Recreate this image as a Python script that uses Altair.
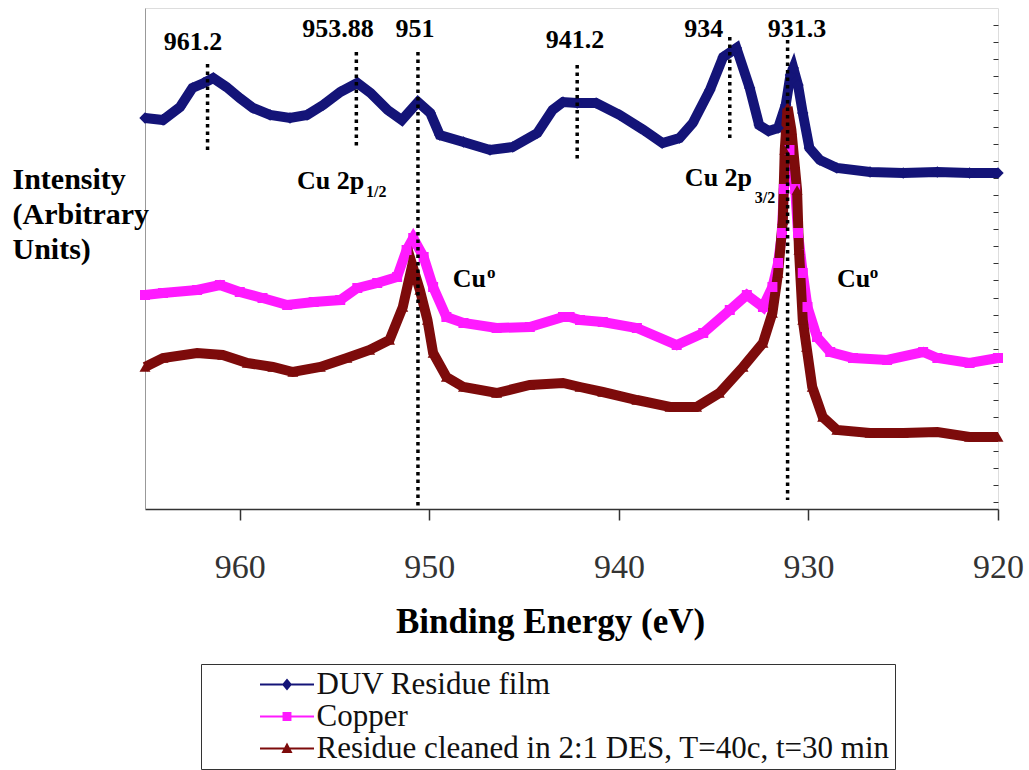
import altair as alt
import pandas as pd

SERIES = ["DUV Residue film", "Copper", "Residue cleaned in 2:1 DES, T=40c, t=30 min"]
COLORS = ["#141478", "#ff1aff", "#7d0b0b"]

duv_e = [965.0, 964.05, 963.15, 962.5, 961.9, 961.4, 960.7, 960.0, 959.3, 958.4, 957.35,
         956.45, 955.6, 954.7, 953.8, 953.1, 952.2, 951.45, 950.6, 949.95, 949.45, 948.2,
         946.8, 945.6, 944.3, 943.5, 942.95, 942.2, 941.2, 939.95, 938.7, 937.7, 936.8,
         936.1, 935.2, 934.5, 933.8, 933.1, 932.6, 932.1, 931.6, 931.2, 930.95, 930.8,
         930.55, 930.3, 929.95, 929.4, 928.5, 926.75, 925.0, 923.2, 921.5, 920.0]
duv_v = [78.2, 77.8, 80.4, 84.2, 85.2, 86.2, 84.4, 82.2, 80.2, 78.8, 78.2,
         78.8, 80.8, 83.4, 85.2, 83.2, 79.8, 77.8, 81.4, 79.2, 74.8, 73.4,
         71.8, 72.4, 75.2, 79.8, 81.4, 81.2, 81.2, 78.8, 75.8, 73.2, 74.2,
         77.2, 83.8, 90.4, 92.2, 84.2, 76.8, 75.6, 76.2, 80.8, 86.8, 88.2,
         84.8, 79.2, 72.2, 69.8, 68.2, 67.4, 67.2, 67.4, 67.2, 67.2]

cu_e = [965.0, 964.05, 962.25, 961.05, 960.0, 958.8, 957.5, 956.1, 954.7, 953.8, 952.75,
        951.7, 951.2, 950.85, 950.3, 949.8, 949.1, 948.2, 946.45, 944.7, 942.95, 942.6,
        942.05, 940.85, 939.05, 936.95, 935.55, 934.15, 933.25, 932.4, 931.9, 931.6,
        931.4, 931.3, 931.0, 930.7, 930.55, 930.3, 930.05, 929.55, 928.85, 927.65,
        925.85, 923.95, 923.2, 921.5, 920.0]
cu_v = [42.8, 43.2, 43.8, 44.8, 43.4, 42.2, 40.8, 41.4, 41.8, 44.2, 45.2,
        46.4, 51.8, 54.2, 50.4, 44.4, 38.4, 37.2, 36.2, 36.4, 38.4, 38.4,
        37.8, 37.4, 36.2, 32.8, 35.2, 39.8, 42.8, 40.4, 44.4, 49.2,
        55.2, 64.0, 71.8, 64.0, 55.2, 47.2, 40.4, 34.4, 31.4, 30.2,
        29.8, 31.4, 30.2, 29.2, 30.2]

res_e = [965.0, 964.05, 962.25, 960.9, 959.6, 958.25, 957.2, 955.75, 954.35, 953.15, 952.1,
         951.4, 950.9, 950.5, 950.1, 949.8, 949.1, 948.2, 946.45, 944.7, 942.95, 942.05,
         940.85, 939.05, 937.3, 935.9, 934.7, 933.45, 932.4, 931.9, 931.6, 931.35, 931.25,
         931.1, 930.9, 930.6, 930.5, 930.3, 930.1, 929.8, 929.25, 928.5, 926.75, 925.0,
         923.2, 921.5, 920.0]
res_v = [28.4, 30.2, 31.2, 30.8, 29.2, 28.4, 27.4, 28.4, 30.2, 31.8, 33.8,
         40.4, 48.8, 43.8, 37.8, 31.2, 26.4, 24.4, 23.2, 24.8, 25.2, 24.4,
         23.4, 21.8, 20.4, 20.4, 23.2, 28.4, 33.2, 39.2, 47.2, 57.8, 71.8,
         80.4, 75.8, 63.8, 51.8, 37.8, 32.4, 24.4, 18.4, 15.8, 15.2, 15.2,
         15.4, 14.4, 14.4]

line_e = [961.7, 953.85, 950.6, 942.2, 934.15, 931.1]
line_top = [89.0, 91.4, 91.4, 88.8, 94.4, 93.8]
line_bottom = [71.8, 72.0, 0.0, 69.4, 74.2, 1.8]

peak_text = ["961.2", "953.88", "951", "941.2", "934", "931.3"]
peak_e = [962.47, 954.82, 950.76, 942.32, 935.52, 930.61]
peak_v = [91.8, 94.4, 94.4, 92.2, 94.4, 94.4]

ann_text = ["Cu 2p", "Cu 2p", "Cu", "Cu"]
ann_e = [956.98, 936.52, 948.76, 928.5]
ann_v = [64.0, 64.6, 44.4, 44.4]

small_text = ["1/2", "3/2", "o", "o"]
small_e = [953.34, 932.83, 946.96, 926.76]
small_v = [62.4, 61.2, 46.2, 46.2]
small_fs = [16, 16, 17, 17]

x_ticks = [960, 950, 940, 930, 920]

rows = []
for name, es, vs in zip(SERIES, [duv_e, cu_e, res_e], [duv_v, cu_v, res_v]):
    for e, v in zip(es, vs):
        rows.append({"series": name, "E": e, "v": v})
df = pd.DataFrame(rows)
df_lines = pd.DataFrame({"E": line_e, "top": line_top, "bottom": line_bottom})
df_peak = pd.DataFrame({"E": peak_e, "v": peak_v, "t": peak_text})
df_ann = pd.DataFrame({"E": ann_e, "v": ann_v, "t": ann_text})
df_small = pd.DataFrame({"E": small_e, "v": small_v, "t": small_text, "fs": small_fs})

SERIF = "Liberation Serif"
xscale = alt.Scale(domain=[920, 965], reverse=True, nice=False, zero=False)
yscale = alt.Scale(domain=[0, 100.2], nice=False, zero=False)
cscale = alt.Scale(domain=SERIES, range=COLORS)

right_ticks = [round((7 + 17.04 * k) / 5, 3) for k in range(29)]

bar = "M-2,-0.067H2V0.067H-2Z "
legend_paths = [
    bar + "M0,-0.44L0.37,0L0,0.44L-0.37,0Z",
    bar + "M-0.33,-0.33H0.33V0.33H-0.33Z",
    bar + "M0,-0.44L0.41,0.33H-0.41Z",
]

x_axis = alt.Axis(values=x_ticks, format="d", grid=False, labelFont=SERIF, labelFontSize=34,
                  labelColor="#333", labelBaseline="alphabetic", labelPadding=57,
                  labelFlush=False, labelOverlap=False, tickSize=11, tickColor="#333",
                  tickWidth=1.5, domainColor="#333", domainWidth=1.5,
                  title="Binding Energy (eV)", titleFont=SERIF, titleFontSize=35,
                  titleFontWeight="bold", titleColor="black", titleX=405, titleY=123,
                  titleBaseline="alphabetic", titleAlign="center")
X = alt.X("E:Q", scale=xscale, axis=x_axis)

y_axis_left = alt.Axis(orient="left", grid=False, ticks=False, labels=False, domain=True,
                       domainColor="#999", title=["Intensity", "(Arbitrary", "Units)"],
                       titleAngle=0, titleAlign="left", titleBaseline="alphabetic",
                       titleX=-133, titleY=180, titleFont=SERIF, titleFontSize=30,
                       titleFontWeight="bold", titleColor="black", titleLineHeight=35)

y_axis_right = alt.Axis(orient="right", offset=-5, grid=False, domain=False, labels=False,
                        ticks=True, tickSize=5, tickColor="#333", values=right_ticks, title=None)

legend_props = dict(orient="none", legendX=56, legendY=656, title=None, padding=5,
                    strokeColor="#333", fillColor="white", labelFont=SERIF,
                    labelFontSize=31, labelColor="#111", labelLimit=1000, symbolSize=729,
                    symbolOffset=65.5, labelOffset=14, rowPadding=0, symbolStrokeWidth=0,
                    symbolOpacity=1)

base = alt.Chart(df)

# layer (first) that only carries the legend: line + marker symbols; it draws no marks
legend_layer = base.transform_filter("false").mark_point(filled=True, size=729, opacity=1).encode(
    x=X,
    y=alt.Y("v:Q", scale=yscale, axis=None),
    color=alt.Color("series:N", scale=cscale, legend=alt.Legend(**legend_props)),
    shape=alt.Shape("series:N", scale=alt.Scale(domain=SERIES, range=legend_paths),
                    legend=alt.Legend(**legend_props)),
)

lines = base.mark_line(strokeWidth=10).encode(
    x=X,
    y=alt.Y("v:Q", scale=yscale, axis=y_axis_left),
    color=alt.Color("series:N", scale=cscale, legend=None),
    detail="series:N",
)

shapes = ["diamond", "square", "triangle-up"]
sizes = [130, 100, 120]
point_layers = []
for i, (name, shp, sz) in enumerate(zip(SERIES, shapes, sizes)):
    yax = y_axis_right if i == 0 else None
    point_layers.append(
        base.transform_filter(alt.datum.series == name).mark_point(
            filled=True, shape=shp, size=sz, opacity=1
        ).encode(
            x=X,
            y=alt.Y("v:Q", scale=yscale, axis=yax),
            color=alt.Color("series:N", scale=cscale, legend=None),
        )
    )

rules = alt.Chart(df_lines).mark_rule(color="black", strokeWidth=3.5, strokeDash=[3.5, 4]).encode(
    x=X,
    y=alt.Y("top:Q", scale=yscale, axis=None),
    y2="bottom:Q",
)

peak_labels = alt.Chart(df_peak).mark_text(
    font=SERIF, fontWeight="bold", fontSize=26, align="center", baseline="alphabetic", color="black"
).encode(x=X, y=alt.Y("v:Q", scale=yscale, axis=None), text="t:N")

ann_labels = alt.Chart(df_ann).mark_text(
    font=SERIF, fontWeight="bold", fontSize=26, align="left", baseline="alphabetic", color="black"
).encode(x=X, y=alt.Y("v:Q", scale=yscale, axis=None), text="t:N")

small_labels = alt.Chart(df_small).mark_text(
    font=SERIF, fontWeight="bold", align="left", baseline="alphabetic", color="black"
).encode(x=X, y=alt.Y("v:Q", scale=yscale, axis=None),
         text="t:N", size=alt.Size("fs:Q", scale=None))

chart = alt.layer(legend_layer, lines, *point_layers, rules, peak_labels, ann_labels, small_labels).properties(
    width=853, height=501, padding={"left": 12, "top": 8, "right": 0, "bottom": 0}
).configure_view(stroke="#999", strokeWidth=1.2).configure(background="white")

chart.save("out.html", embed_options={"renderer": "svg", "actions": False})
